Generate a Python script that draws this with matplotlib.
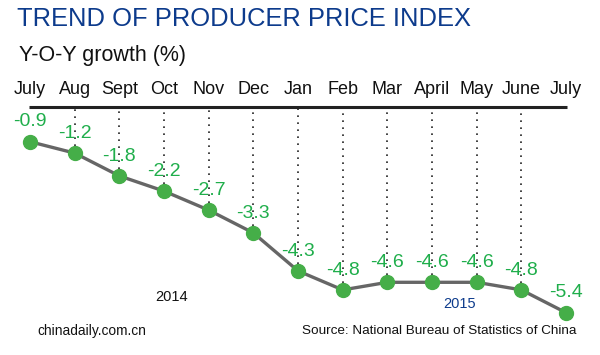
import numpy as np
import matplotlib.pyplot as plt

# data
months = ['July', 'Aug', 'Sept', 'Oct', 'Nov', 'Dec', 'Jan', 'Feb', 'Mar', 'April', 'May', 'June', 'July']
ppi = [-0.9, -1.2, -1.8, -2.2, -2.7, -3.3, -4.3, -4.8, -4.6, -4.6, -4.6, -4.8, -5.4]

green_txt = '#1fae4b'
green_dot = '#45ae48'
blue = '#0d3b8c'

W, H = 600, 355
fig = plt.figure(figsize=(6, 3.55), dpi=100)
ax = fig.add_axes([0, 0, 1, 1])
ax.axis('off')

# axis limits chosen so month spacing / value scale match the graphic
dx, x0 = 44.67, 30
py0, scale = 107.5, 38.0
ax.set_xlim(-x0 / dx, (W - x0) / dx)
ax.set_ylim((py0 - H) / scale, py0 / scale)

x = np.arange(len(months))

# top rule and month names
ax.plot([x[0] - 0.03, x[-1] + 0.03], [0, 0], color='#222222', lw=2.2, solid_capstyle='butt')
for i, m in enumerate(months):
    ax.text(x[i], 0.47, m, ha='center', va='center', fontsize=13,
            family='Liberation Sans', color='#111111')

# dotted guides
ax.vlines(x[1:-1], np.array(ppi[1:-1]), 0, colors='#222222', lw=1.2,
          linestyles=(0, (1, 3.2)), zorder=1)

ax.plot(x, ppi, color='#666666', lw=2.4, zorder=2)
ax.plot(x, ppi, 'o', ms=10, color=green_dot, mec=green_dot, zorder=3)

for i, v in enumerate(ppi):
    ax.text(x[i], v + 0.52, f'{v:.1f}', ha='center', va='center', fontsize=14,
            family='Liberation Sans', color=green_txt, zorder=4)

# titles and notes
fig.text(17 / W, 1 - 19 / H, 'TREND OF PRODUCER PRICE INDEX', fontsize=18.4,
         family='Liberation Sans', color=blue, va='center', ha='left')
fig.text(19 / W, 1 - 55 / H, 'Y-O-Y growth (%)', fontsize=15.5,
         family='Liberation Sans', color='#111111', va='center', ha='left')
fig.text(172 / W, 1 - 297 / H, '2014', fontsize=10.5, family='Liberation Sans',
         color='#111111', va='center', ha='center')
fig.text(460 / W, 1 - 304 / H, '2015', fontsize=10.5, family='Liberation Sans',
         color=blue, va='center', ha='center')
fig.text(37 / W, 1 - 331 / H, 'chinadaily.com.cn', fontsize=9.9,
         family='Liberation Sans', color='#111111', va='center', ha='left')
fig.text(576 / W, 1 - 331 / H, 'Source: National Bureau of Statistics of China',
         fontsize=9.7, family='Liberation Sans', color='#111111', va='center', ha='right')

fig.savefig('out.png', dpi=100)
